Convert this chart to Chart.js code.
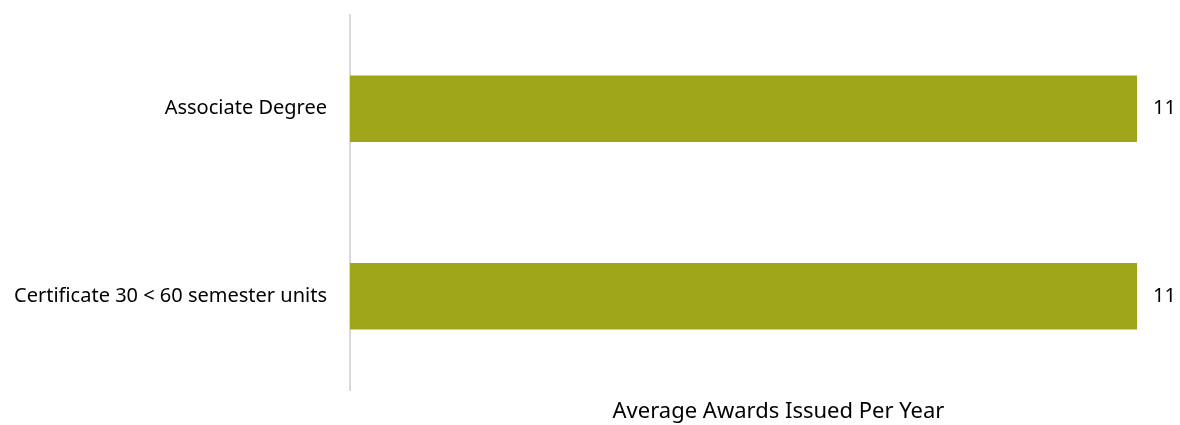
<!DOCTYPE html>
<html>
<head>
<meta charset="utf-8">
<script src="https://cdn.jsdelivr.net/npm/chart.js@4"></script>
<style>
  html, body { margin: 0; padding: 0; background: #ffffff; }
  #wrap { width: 1180px; height: 425px; position: relative; }
</style>
</head>
<body>
<div id="wrap"><canvas id="chart"></canvas></div>
<script>
// Award types and their average yearly counts
const categories = ['Associate Degree', 'Certificate 30 < 60 semester units'];
const avgAwards = [11, 11];
const axisTitle = 'Average Awards Issued Per Year';

const FONT = '"Noto Sans", "DejaVu Sans", sans-serif';

// Writes each bar's value just past its end, plus the axis caption below the plot
const annotations = {
  id: 'annotations',
  afterDatasetsDraw(chart) {
    const ctx = chart.ctx;
    const area = chart.chartArea;
    const meta = chart.getDatasetMeta(0);
    ctx.save();
    ctx.font = '20px ' + FONT;
    ctx.fillStyle = '#000000';
    ctx.textAlign = 'left';
    ctx.textBaseline = 'middle';
    meta.data.forEach((bar, i) => {
      ctx.fillText(String(avgAwards[i]), bar.x + 16, bar.y);
    });
    ctx.font = '22px ' + FONT;
    ctx.textAlign = 'center';
    ctx.fillText(axisTitle, (area.left + area.right) / 2 + 35, area.bottom + 22);
    ctx.restore();
  }
};

new Chart(document.getElementById('chart'), {
  type: 'bar',
  data: {
    labels: categories,
    datasets: [{
      data: avgAwards,
      backgroundColor: '#A0A61A',
      borderWidth: 0,
      barThickness: 66
    }]
  },
  options: {
    indexAxis: 'y',
    responsive: true,
    maintainAspectRatio: false,
    animation: false,
    layout: { padding: { top: 15, right: 43, bottom: 35, left: 0 } },
    plugins: {
      legend: { display: false },
      tooltip: { enabled: false }
    },
    scales: {
      x: {
        display: false,
        min: 0,
        max: 11
      },
      y: {
        grid: { display: false },
        border: { display: true, color: '#d9d9d9', width: 2 },
        ticks: {
          color: '#000000',
          font: { family: FONT, size: 20 },
          padding: 15
        },
        afterFit(scale) {
          scale.width = 350;
          scale.paddingTop = 0;
          scale.paddingBottom = 0;
        }
      }
    }
  },
  plugins: [annotations]
});
</script>
</body>
</html>
